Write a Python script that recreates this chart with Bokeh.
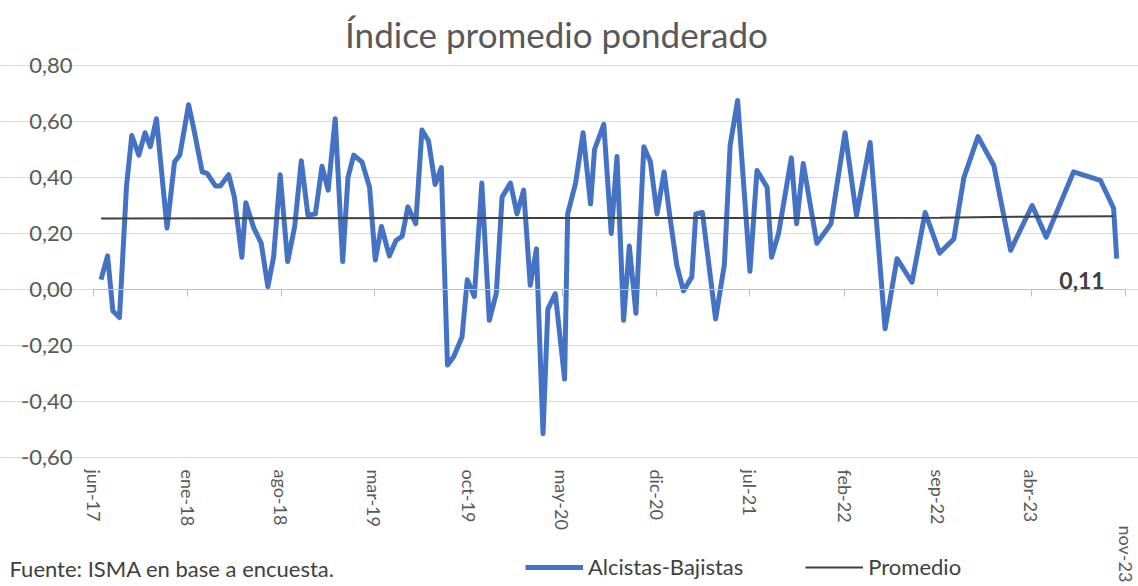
import pandas as pd
from bokeh.plotting import figure
from bokeh.models import (FixedTicker, CustomJSTickFormatter, DatetimeAxis, Range1d,
                          Label, Legend, LegendItem)
from bokeh.embed import file_html
from bokeh.resources import INLINE

# ---------------- data ----------------
dates = [
    "2017-06-18", "2017-07-03", "2017-07-15", "2017-07-30", "2017-08-15", "2017-08-27", "2017-09-12", "2017-09-26", "2017-10-08", "2017-10-22",
    "2017-11-15", "2017-12-02", "2017-12-14", "2018-01-03", "2018-01-14", "2018-02-03", "2018-02-14", "2018-03-05", "2018-03-16", "2018-04-04",
    "2018-04-17", "2018-05-04", "2018-05-13", "2018-05-31", "2018-06-17", "2018-07-02", "2018-07-15", "2018-07-30", "2018-08-16", "2018-09-01",
    "2018-09-16", "2018-10-01", "2018-10-18", "2018-11-02", "2018-11-16", "2018-12-02", "2018-12-19", "2018-12-31", "2019-01-13", "2019-02-01",
    "2019-02-18", "2019-03-03", "2019-03-17", "2019-04-04", "2019-04-19", "2019-05-03", "2019-05-16", "2019-06-03", "2019-06-17", "2019-07-02",
    "2019-07-17", "2019-07-31", "2019-08-14", "2019-08-28", "2019-09-16", "2019-09-28", "2019-10-14", "2019-10-31", "2019-11-17", "2019-12-03",
    "2019-12-16", "2020-01-04", "2020-01-19", "2020-02-03", "2020-02-18", "2020-03-03", "2020-03-18", "2020-03-29", "2020-04-15", "2020-05-06",
    "2020-05-13", "2020-05-31", "2020-06-17", "2020-07-04", "2020-07-13", "2020-08-03", "2020-08-20", "2020-09-02", "2020-09-17", "2020-09-30",
    "2020-10-15", "2020-11-02", "2020-11-17", "2020-12-02", "2020-12-18", "2021-01-01", "2021-01-16", "2021-01-31", "2021-02-19", "2021-02-28",
    "2021-03-15", "2021-04-14", "2021-05-04", "2021-05-17", "2021-06-03", "2021-07-01", "2021-07-17", "2021-08-09", "2021-08-19", "2021-09-04",
    "2021-10-03", "2021-10-15", "2021-10-30", "2021-11-30", "2022-01-01", "2022-02-02", "2022-02-28", "2022-03-31", "2022-05-04", "2022-05-31",
    "2022-07-04", "2022-08-03", "2022-09-05", "2022-10-07", "2022-10-30", "2022-12-01", "2023-01-06", "2023-02-13", "2023-04-03", "2023-05-05",
    "2023-07-06", "2023-09-05", "2023-10-05", "2023-10-12",
]

alcistas_bajistas = [
    0.035, 0.12, -0.077, -0.10, 0.37, 0.55, 0.48, 0.56, 0.51, 0.61,
    0.22, 0.455, 0.48, 0.66, 0.58, 0.42, 0.415, 0.37, 0.37, 0.41,
    0.33, 0.115, 0.31, 0.22, 0.165, 0.01, 0.115, 0.41, 0.10, 0.225,
    0.46, 0.265, 0.27, 0.44, 0.355, 0.61, 0.10, 0.40, 0.48, 0.455,
    0.365, 0.105, 0.225, 0.12, 0.175, 0.19, 0.295, 0.235, 0.57, 0.53,
    0.375, 0.435, -0.27, -0.24, -0.17, 0.035, -0.025, 0.38, -0.11, -0.013,
    0.33, 0.38, 0.27, 0.355, 0.015, 0.145, -0.515, -0.07, -0.015, -0.32,
    0.27, 0.38, 0.56, 0.305, 0.50, 0.59, 0.20, 0.475, -0.11, 0.155,
    -0.085, 0.51, 0.455, 0.27, 0.42, 0.25, 0.085, -0.005, 0.045, 0.27,
    0.275, -0.105, 0.09, 0.515, 0.675, 0.065, 0.425, 0.365, 0.115, 0.20,
    0.47, 0.235, 0.45, 0.165, 0.235, 0.56, 0.265, 0.525, -0.14, 0.11,
    0.026, 0.275, 0.13, 0.18, 0.40, 0.546, 0.443, 0.14, 0.30, 0.187,
    0.42, 0.39, 0.29, 0.11,
]

promedio_dates = ["2017-06-18", "2022-09-05", "2023-01-06", "2023-10-05"]
promedio = [0.254, 0.256, 0.259, 0.262]

tick_dates = ["2017-06-01", "2018-01-01", "2018-08-01", "2019-03-01", "2019-10-01", "2020-05-01",
              "2020-12-01", "2021-07-01", "2022-02-01", "2022-09-01", "2023-04-01", "2023-11-01"]
tick_labels = ["jun-17", "ene-18", "ago-18", "mar-19", "oct-19", "may-20",
               "dic-20", "jul-21", "feb-22", "sep-22", "abr-23", "nov-23"]
y_ticks = [-0.6, -0.4, -0.2, 0.0, 0.2, 0.4, 0.6, 0.8]

title_text = "Índice promedio ponderado"
source_text = "Fuente: ISMA en base a encuesta."
series_names = ["Alcistas-Bajistas", "Promedio"]

# ---------------- layout (pixels) ----------------
W, H = 1138, 586
PLOT_L, PLOT_R, PLOT_T, PLOT_B = 93, 1125, 65, 457

FONT = "Lato"
GRAY = "#595959"
DARK = "#404040"

# ---------------- derived ----------------
x_dt = pd.to_datetime(dates)
xp_dt = pd.to_datetime(promedio_dates)
tick_dt = pd.to_datetime(tick_dates)
tick_ms = [float(t.value // 10**6) for t in tick_dt]
t0, t1 = tick_ms[0], tick_ms[-1]
ms_per_px = (t1 - t0) / (PLOT_R - PLOT_L)
v_per_px = (y_ticks[-1] - y_ticks[0]) / (PLOT_B - PLOT_T)
x_start = t0 - PLOT_L * ms_per_px
x_end = t1 + (W - PLOT_R) * ms_per_px
y_end = y_ticks[-1] + PLOT_T * v_per_px
y_start = y_ticks[0] - (H - PLOT_B) * v_per_px

p = figure(width=W, height=H, output_backend="svg", toolbar_location=None,
           x_axis_type="datetime",
           x_range=Range1d(x_start, x_end), y_range=Range1d(y_start, y_end),
           min_border=0, min_border_left=0, min_border_right=0,
           min_border_top=0, min_border_bottom=0, title_location=None)
p.outline_line_color = None
p.background_fill_color = "white"
p.border_fill_color = "white"


def style_date_labels(ax, standoff):
    ax.axis_line_color = None
    ax.major_tick_line_color = None
    ax.minor_tick_line_color = None
    ax.major_label_orientation = "vertical"
    ax.major_label_text_font = FONT
    ax.major_label_text_font_size = "18px"
    ax.major_label_text_color = GRAY
    ax.major_label_standoff = standoff


# date axis with labels, pinned at the bottom of the value range
xa = p.xaxis[0]
xa.fixed_location = y_ticks[0]
xa.ticker = FixedTicker(ticks=tick_ms[:-1])
xa.formatter = CustomJSTickFormatter(args=dict(labels=tick_labels[:-1]), code="return labels[index];")
style_date_labels(xa, 6)

# last date label sits lower, as in the original
xb = DatetimeAxis(fixed_location=y_ticks[0], ticker=FixedTicker(ticks=tick_ms[-1:]),
                  formatter=CustomJSTickFormatter(args=dict(labels=tick_labels[-1:]),
                                                  code="return labels[index];"))
style_date_labels(xb, 62)
p.add_layout(xb, "below")

# axis line at zero with tick marks
za = DatetimeAxis(ticker=FixedTicker(ticks=tick_ms), fixed_location=0, bounds=(t0, t1),
                  axis_line_color="#BFBFBF", axis_line_width=1,
                  major_tick_line_color="#BFBFBF", major_tick_out=7, major_tick_in=0,
                  minor_tick_line_color=None, major_label_text_font_size="0px",
                  major_label_text_alpha=0, major_label_standoff=0)
p.add_layout(za, "below")

# value axis pinned at the start of the date range
ya = p.yaxis[0]
ya.fixed_location = t0
ya.ticker = FixedTicker(ticks=y_ticks)
ya.formatter = CustomJSTickFormatter(code="""
    if (Math.abs(tick) < 1e-9) { return '0,00'; }
    return tick.toFixed(2).replace('.', ',');
""")
ya.axis_line_color = None
ya.major_tick_line_color = None
ya.minor_tick_line_color = None
ya.major_tick_out = 0
ya.major_label_standoff = 21
ya.major_label_text_font = FONT
ya.major_label_text_font_size = "22px"
ya.major_label_text_color = GRAY

p.xgrid.visible = False
p.ygrid.ticker = FixedTicker(ticks=y_ticks)
p.ygrid.bounds = (t0, t1)
p.ygrid.grid_line_color = "#D9D9D9"
p.ygrid.grid_line_width = 1

r1 = p.line(x_dt, alcistas_bajistas, line_color="#4472C4", line_width=5, line_join="round")
r2 = p.line(xp_dt, promedio, line_color=DARK, line_width=2)

legend = Legend(items=[LegendItem(label=series_names[0], renderers=[r1]),
                       LegendItem(label=series_names[1], renderers=[r2])],
                orientation="horizontal", location=(525, 6),
                glyph_width=58, glyph_height=22, label_standoff=5, spacing=62,
                padding=0, margin=0, border_line_color=None, background_fill_alpha=0,
                label_text_font=FONT, label_text_font_size="22px", label_text_color=DARK)
p.add_layout(legend)

p.add_layout(Label(x=556, y=H - 33, x_units="screen", y_units="screen", text=title_text,
                   text_align="center", text_baseline="middle", text_font=FONT,
                   text_font_size="35px", text_color=GRAY))

p.add_layout(Label(x=9, y=H - 568, x_units="screen", y_units="screen", text=source_text,
                   text_align="left", text_baseline="middle", text_font=FONT,
                   text_font_size="22px", text_color=DARK))

last_ms = float(x_dt[-1].value // 10**6)
p.add_layout(Label(x=last_ms, y=alcistas_bajistas[-1],
                   text=f"{alcistas_bajistas[-1]:.2f}".replace(".", ","),
                   x_offset=-12, y_offset=-22, text_align="right", text_baseline="middle",
                   text_font=FONT, text_font_size="23px", text_font_style="bold",
                   text_color=DARK))

open("out.html", "w").write(file_html(p, INLINE))
